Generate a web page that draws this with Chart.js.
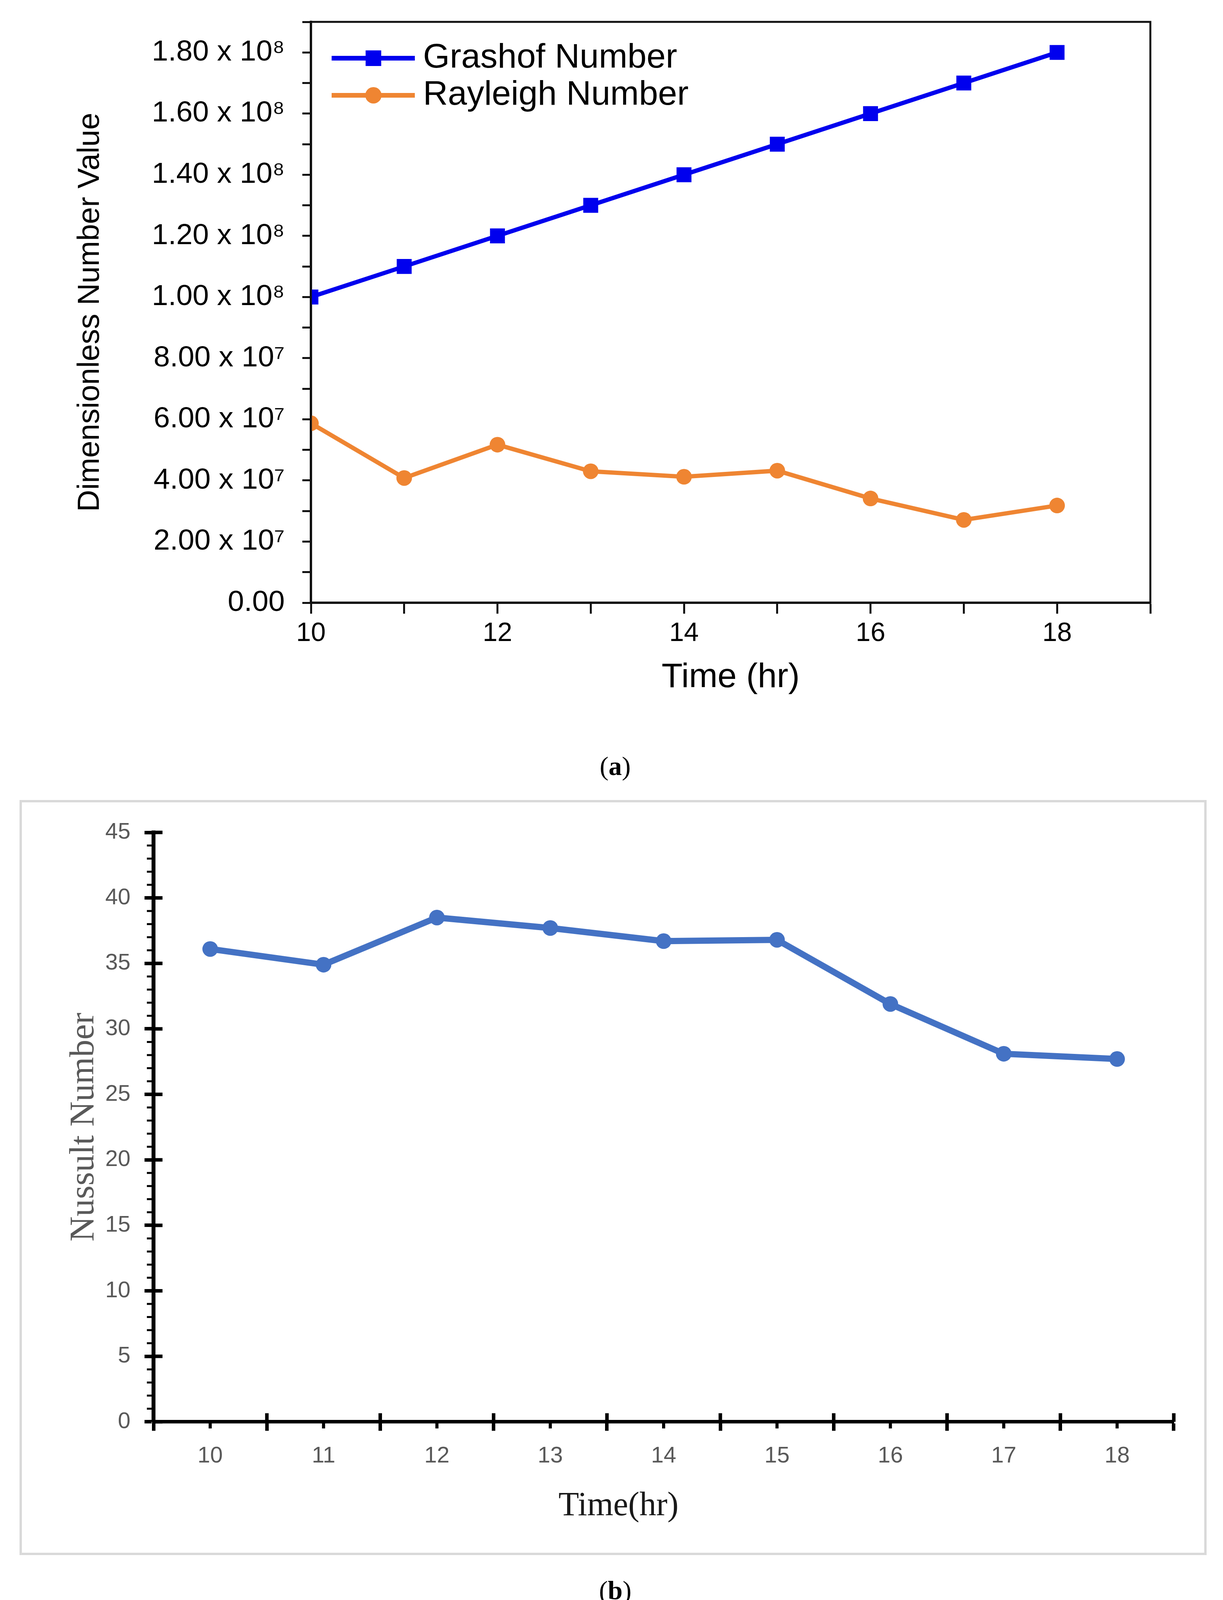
<!DOCTYPE html>
<html>
<head>
<meta charset="utf-8">
<script src="https://cdn.jsdelivr.net/npm/chart.js@4.4.1/dist/chart.umd.min.js"></script>
<style>
html, body { margin:0; padding:0; background:#fff; }
body { width:3131px; height:4157px; position:relative; overflow:hidden; }
#wrapA { position:absolute; left:0; top:0; width:3131px; height:1800px; }
#frameB { position:absolute; left:50px; top:2048px; width:3027px; height:1921px; border:6px solid #d9d9d9; }
.cap { position:absolute; width:400px; left:1375px; text-align:center; font-family:'Liberation Serif', serif; font-size:68px; line-height:80px; color:#000; }
</style>
</head>
<body>
<div id="wrapA"><canvas id="chart_a" width="3131" height="1800"></canvas></div>
<div class="cap" style="top:1921px;">(<b>a</b>)</div>
<div id="frameB"><canvas id="chart_b" width="3027" height="1921"></canvas></div>
<div class="cap" style="top:4031px;">(<b>b</b>)</div>
<script>
// (a) dimensionless numbers
const hours = [10, 11, 12, 13, 14, 15, 16, 17, 18];
const grashof = [1.0e8, 1.1e8, 1.2e8, 1.3e8, 1.4e8, 1.5e8, 1.6e8, 1.7e8, 1.8e8];
const rayleigh = [5.87e7, 4.08e7, 5.17e7, 4.30e7, 4.12e7, 4.32e7, 3.41e7, 2.71e7, 3.18e7];
const yLabelsA = ['0.00', '2.00 x 10⁷', '4.00 x 10⁷', '6.00 x 10⁷', '8.00 x 10⁷',
                  '1.00 x 10⁸', '1.20 x 10⁸', '1.40 x 10⁸', '1.60 x 10⁸', '1.80 x 10⁸'];
const xLabelsA = ['10', '12', '14', '16', '18'];

// (b) Nusselt number
const timeLabelsB = ['10', '11', '12', '13', '14', '15', '16', '17', '18'];
const nusselt = [36.1, 34.9, 38.5, 37.7, 36.7, 36.8, 31.9, 28.1, 27.7];

const BLUE = '#0000ee';
const ORANGE = '#ef8532';
const NU_BLUE = '#4472c4';

// legend swatch: a line with the marker in the middle
function legendIcon(color, style){
	const c = document.createElement('canvas');
	c.width = 282; c.height = 60;
	const g = c.getContext('2d');
	g.strokeStyle = color;
	g.fillStyle = color;
	g.lineWidth = 12;
	g.beginPath(); g.moveTo(69, 30); g.lineTo(282, 30); g.stroke();
	if(style === 'rect'){
		g.fillRect(176 - 20, 10, 40, 40);
	}else{
		g.beginPath(); g.arc(176, 30, 21, 0, Math.PI*2); g.fill();
	}
	return c;
}
const icons = [legendIcon(BLUE, 'rect'), legendIcon(ORANGE, 'circle')];

const frame = {
	id: 'frame',
	afterDraw(chart){
		const {ctx, chartArea: a} = chart;
		ctx.save();
		ctx.strokeStyle = '#111';
		ctx.lineWidth = 5;
		ctx.strokeRect(a.left, a.top, a.right - a.left, a.bottom - a.top);
		ctx.restore();
	}
};

const chart_a_ctx = document.getElementById('chart_a').getContext('2d');
const chart_a = new Chart(chart_a_ctx, {
	type: 'line',
	data: {
		datasets: [{
			label: 'Grashof Number',
			data: hours.map((h, i) => ({x: h, y: grashof[i]})),
			borderColor: BLUE,
			backgroundColor: BLUE,
			borderWidth: 11,
			pointStyle: 'rect',
			pointRadius: 27,
			pointBorderWidth: 0,
		},
		{
			label: 'Rayleigh Number',
			data: hours.map((h, i) => ({x: h, y: rayleigh[i]})),
			borderColor: ORANGE,
			backgroundColor: ORANGE,
			borderWidth: 11,
			pointStyle: 'circle',
			pointRadius: 20,
			pointBorderWidth: 0,
		}]
	},
	options: {
		responsive: false,
		animation: false,
		devicePixelRatio: 1,
		layout: { padding: { left: 185, top: 56, right: 186, bottom: 0 } },
		scales: {
			x: {
				type: 'linear', min: 10, max: 19,
				afterFit: (s) => { s.height = 257; s.paddingLeft = 0; s.paddingRight = 0; },
				border: { display: true, color: '#111', width: 6 },
				grid: { drawOnChartArea: false, drawTicks: true, tickLength: 28, tickColor: '#111', tickWidth: 5 },
				ticks: {
					stepSize: 1, autoSkip: false, maxRotation: 0, padding: 10,
					color: '#000', font: { family: 'Liberation Sans', size: 68 },
					callback: (v) => xLabelsA.includes(String(v)) ? String(v) : ''
				},
				title: { display: true, text: 'Time (hr)', color: '#000', padding: { top: 0, bottom: 12 },
					font: { family: 'Liberation Sans', size: 88 } }
			},
			y: {
				min: 0, max: 1.9e8,
				afterFit: (s) => { s.width = 611; s.paddingTop = 0; s.paddingBottom = 0; },
				border: { display: true, color: '#111', width: 6 },
				grid: { drawOnChartArea: false, drawTicks: true, tickLength: 22, tickColor: '#111', tickWidth: 5 },
				ticks: {
					stepSize: 1e7, autoSkip: false, padding: 45,
					color: '#000', font: { family: 'Liberation Sans', size: 75 },
					callback: (v) => { const k = Math.round(v / 1e7); return k % 2 === 0 ? yLabelsA[k/2] : ''; }
				},
				title: { display: true, text: 'Dimensionless Number Value', color: '#000', padding: 0,
					font: { family: 'Liberation Sans', size: 78 } }
			}
		},
		plugins: {
			legend: {
				position: 'chartArea', align: 'start',
				title: { display: true, text: ' ', padding: { top: 50, bottom: 0 }, font: { size: 40 } },
				labels: {
					usePointStyle: true, pointStyleWidth: 236, padding: 7,
					color: '#000', font: { family: 'Liberation Sans', size: 88 },
					generateLabels: (chart) => chart.data.datasets.map((ds, i) => ({
						text: ds.label, pointStyle: icons[i], fillStyle: ds.borderColor,
						strokeStyle: ds.borderColor, lineWidth: 0, hidden: false, datasetIndex: i, fontColor: '#000'
					}))
				}
			},
			tooltip: { enabled: false }
		}
	},
	plugins: [frame]
});

// small ticks and the inner half of the crossing ticks on chart (b)
const axisMarks = {
	id: 'axisMarks',
	afterDraw(chart){
		const {ctx, chartArea: a, scales: {x, y}} = chart;
		ctx.save();
		ctx.strokeStyle = '#000';
		ctx.lineWidth = 5;
		for(let v = y.min; v <= y.max; v++){
			if(v % 5 === 0) continue;
			const py = y.getPixelForValue(v);
			ctx.beginPath(); ctx.moveTo(a.left - 17, py); ctx.lineTo(a.left, py); ctx.stroke();
		}
		ctx.lineWidth = 9;
		y.ticks.forEach((t, i) => {
			const py = y.getPixelForTick(i);
			ctx.beginPath(); ctx.moveTo(a.left, py); ctx.lineTo(a.left + 23, py); ctx.stroke();
		});
		for(let i = 0; i <= timeLabelsB.length; i++){
			const px = x.getPixelForValue(i - 0.5);
			ctx.beginPath(); ctx.moveTo(px, a.bottom); ctx.lineTo(px, a.bottom - 22); ctx.stroke();
		}
		ctx.lineWidth = 8;
		timeLabelsB.forEach((t, i) => {
			const px = x.getPixelForValue(i);
			ctx.beginPath(); ctx.moveTo(px, a.bottom); ctx.lineTo(px, a.bottom + 17); ctx.stroke();
		});
		ctx.restore();
	}
};

const chart_b_ctx = document.getElementById('chart_b').getContext('2d');
const chart_b = new Chart(chart_b_ctx, {
	type: 'line',
	data: {
		labels: timeLabelsB,
		datasets: [{
			label: 'Nussult Number',
			data: nusselt,
			borderColor: NU_BLUE,
			backgroundColor: NU_BLUE,
			borderWidth: 16,
			pointRadius: 20,
			pointBorderWidth: 0,
		}]
	},
	options: {
		responsive: false,
		animation: false,
		devicePixelRatio: 1,
		layout: { padding: { left: 106, top: 77, right: 78, bottom: 0 } },
		scales: {
			x: {
				offset: true,
				afterFit: (s) => { s.height = 165; s.paddingLeft = 0; s.paddingRight = 0; },
				border: { display: true, color: '#000', width: 9 },
				grid: { offset: true, drawOnChartArea: false, drawTicks: true, tickLength: 23, tickColor: '#000', tickWidth: 9 },
				ticks: { autoSkip: false, maxRotation: 0, padding: 30, color: '#595959',
					font: { family: 'Liberation Sans', size: 58 } }
			},
			y: {
				min: 0, max: 45,
				afterFit: (s) => { s.width = 231; s.paddingTop = 0; s.paddingBottom = 0; },
				border: { display: true, color: '#000', width: 10 },
				grid: { drawOnChartArea: false, drawTicks: true, tickLength: 23, tickColor: '#000', tickWidth: 9 },
				ticks: { stepSize: 5, autoSkip: false, padding: 36, color: '#595959',
					font: { family: 'Liberation Sans', size: 58 } },
				title: { display: true, text: 'Nussult Number', color: '#595959', padding: 0,
					font: { family: 'Liberation Serif', size: 89 } }
			}
		},
		plugins: {
			legend: { display: false },
			tooltip: { enabled: false },
			title: { display: true, position: 'bottom', text: 'Time(hr)', color: '#1a1a1a',
				padding: { top: 0, bottom: 67 }, font: { family: 'Liberation Serif', size: 86, weight: 'normal' } }
		}
	},
	plugins: [axisMarks]
});
</script>
</body>
</html>
